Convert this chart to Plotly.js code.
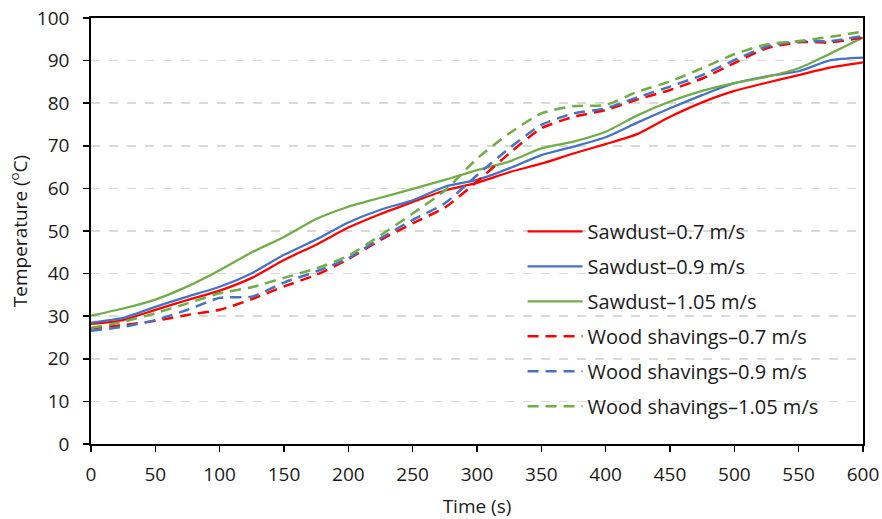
<!DOCTYPE html>
<html>
<head>
<meta charset="utf-8">
<script src="https://cdn.plot.ly/plotly-3.0.1.min.js"></script>
<style>html,body{margin:0;padding:0;background:#fff;}#chart{width:882px;height:519px;}</style>
</head>
<body>
<div id="chart"></div>
<script>
const time = [0,25,50,75,100,125,150,175,200,225,250,275,300,325,350,375,400,425,450,475,500,525,550,575,600];
const sawdust07 = [28.2,29.1,31.5,33.8,36.0,39.0,43.2,46.8,50.8,54.0,56.8,59.5,61.3,63.8,65.8,68.2,70.4,72.8,76.8,80.2,82.9,84.8,86.6,88.4,89.6];
const sawdust09 = [28.5,29.6,32.2,34.6,36.9,40.1,44.4,48.0,52.0,55.0,57.2,60.4,62.0,64.7,67.8,69.8,72.0,75.5,78.8,81.9,84.7,86.3,87.5,90.1,90.7];
const sawdust105 = [30.1,31.8,33.9,37.0,40.8,45.0,48.6,52.8,55.7,57.8,59.9,62.0,64.3,66.3,69.4,71.0,73.3,77.2,80.4,82.9,84.7,86.2,88.2,91.7,95.4];
const wood07 = [27.2,27.9,28.9,30.3,31.5,34.0,37.0,39.7,43.4,47.9,51.8,55.5,61.6,68.2,74.1,76.8,78.4,80.9,83.1,85.8,89.4,92.9,94.3,94.3,95.4];
const wood09 = [26.6,27.5,29.1,31.5,34.3,34.6,37.9,40.5,43.6,48.3,52.6,56.5,63.1,69.4,74.9,77.6,78.8,81.4,83.9,86.6,90.1,93.3,94.5,94.6,95.8];
const wood105 = [27.2,28.7,30.7,33.0,35.4,36.8,39.0,41.2,44.2,49.0,54.1,59.5,67.0,72.9,77.6,79.3,79.6,82.7,85.1,88.2,91.5,93.8,94.6,95.6,96.8];
const names = ["Sawdust\u20130.7 m/s","Sawdust\u20130.9 m/s","Sawdust\u20131.05 m/s","Wood shavings\u20130.7 m/s","Wood shavings\u20130.9 m/s","Wood shavings\u20131.05 m/s"];
const xTicks = [0,50,100,150,200,250,300,350,400,450,500,550,600];
const yTicks = [0,10,20,30,40,50,60,70,80,90,100];

const series = [sawdust07, sawdust09, sawdust105, wood07, wood09, wood105];
const colors = ["#ff0000","#4472c4","#70ad47","#ff0000","#4472c4","#70ad47"];
const traces = series.map((s,i)=>({
  x: time, y: s, name: names[i], type:'scatter', mode:'lines',
  legendgroup: 'g'+i,
  line: {color: colors[i], width: i<3 ? 2.25 : 2.5, shape:'spline', smoothing:0.6, dash: i<3 ? 'solid' : '11px,7px'}
}));

const fam = '"Open Sans", "Noto Sans", sans-serif';
const txt = '#1a1a1a';
const layout = {
  width:882, height:519,
  margin:{l:91, r:19, t:18, b:75},
  paper_bgcolor:'#fff', plot_bgcolor:'#fff',
  font: {family:fam, size:19, color:txt},
  showlegend:true,
  legend:{x:0.559, y:0.545, xanchor:'left', yanchor:'top', bgcolor:'rgba(0,0,0,0)', font:{family:fam, size:20, color:txt}, tracegroupgap:6, itemwidth:55},
  xaxis:{range:[0,600], tickvals:xTicks, ticks:'outside', ticklen:6, tickcolor:'#000', tickwidth:1.5, showline:true, linecolor:'#000', linewidth:1.8, mirror:true, showgrid:false, zeroline:false,
    ticklabelstandoff:6,
    tickfont:{family:fam, size:19, color:txt},
    title:{text:'Time (s)', font:{family:fam, size:19, color:txt}, standoff:14}},
  yaxis:{range:[0,100], tickvals:yTicks, ticks:'outside', ticklen:6, tickcolor:'#000', tickwidth:1.5, showline:true, linecolor:'#000', linewidth:1.8, mirror:true,
    showgrid:true, gridcolor:'#d9d9d9', griddash:'dash', gridwidth:1.5, zeroline:false,
    ticklabelstandoff:10,
    tickfont:{family:fam, size:19, color:txt},
    title:{text:'Temperature (<sup>o</sup>C)', font:{family:fam, size:19, color:txt}, standoff:4}}
};
Plotly.newPlot('chart', traces, layout, {staticPlot:true});
</script>
</body>
</html>
